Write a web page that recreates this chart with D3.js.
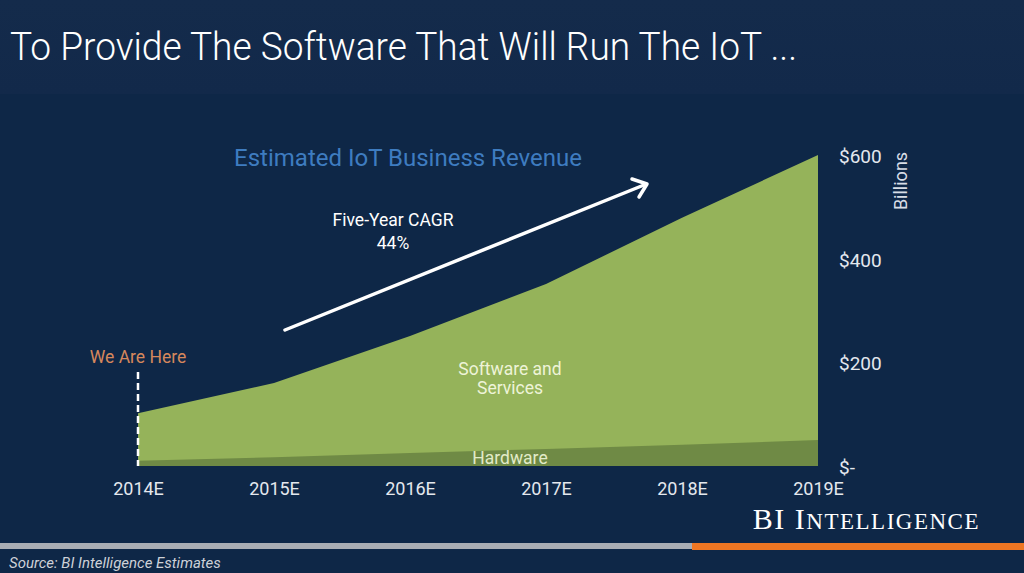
<!DOCTYPE html>
<html><head><meta charset="utf-8">
<script src="https://cdn.jsdelivr.net/npm/d3@7"></script>
<style>
html,body{margin:0;padding:0;background:#0e2747;}
svg{display:block;}
</style></head>
<body>
<svg id="chart" width="1024" height="573"></svg>
<script>
const years = ["2014E","2015E","2016E","2017E","2018E","2019E"];
const hardware = [10, 17, 25, 33, 41, 50];
const software = [92, 143, 226, 318, 438, 550];
const yTicks = [0, 200, 400, 600];
const yTickLabels = ["$-", "$200", "$400", "$600"];

const svg = d3.select("#chart");
const W = 1024, H = 573;
const FONT = "Roboto, sans-serif";

// backgrounds
const defs = svg.append("defs");
const hg = defs.append("linearGradient").attr("id","hdr").attr("x1",0).attr("y1",0).attr("x2",0).attr("y2",1);
hg.append("stop").attr("offset","0%").attr("stop-color","#142b4b");
hg.append("stop").attr("offset","100%").attr("stop-color","#12294a");
svg.append("rect").attr("width",W).attr("height",H).attr("fill","#0e2747");
svg.append("rect").attr("width",W).attr("height",94).attr("fill","url(#hdr)");

svg.append("text").attr("x",10).attr("y",60)
  .attr("font-family",FONT).attr("font-weight",300)
  .attr("font-size",38).attr("fill","#ffffff")
  .attr("textLength",787).attr("lengthAdjust","spacingAndGlyphs")
  .text("To Provide The Software That Will Run The IoT ...");

// scales
const x = d3.scalePoint().domain(years).range([138, 818]);
const y = d3.scaleLinear().domain([0, 600]).range([466, 155]);

const data = years.map((yr, i) => ({yr, hw: hardware[i], sw: software[i]}));

const areaTotal = d3.area().x(d => x(d.yr)).y0(y(0)).y1(d => y(d.hw + d.sw));
const areaHw = d3.area().x(d => x(d.yr)).y0(y(0)).y1(d => y(d.hw));

svg.append("path").datum(data).attr("d", areaTotal).attr("fill","#95b35a");
svg.append("path").datum(data).attr("d", areaHw).attr("fill","#6f8a45");

// y axis
const yAxis = d3.axisRight(y).tickValues(yTicks).tickFormat(d => yTickLabels[yTicks.indexOf(d)]).tickSize(0).tickPadding(0);
const ya = svg.append("g").attr("transform","translate(839,1)").call(yAxis);
ya.select(".domain").remove();
ya.selectAll("text").attr("font-family",FONT).attr("font-size",19).attr("fill","#e4e8ee").attr("dy","0.35em");

svg.append("text").attr("transform","translate(907,181) rotate(-90)")
  .attr("text-anchor","middle").attr("font-family",FONT).attr("font-size",18)
  .attr("fill","#d8dde6").text("Billions");

// x axis
const xAxis = d3.axisBottom(x).tickSize(0).tickPadding(0);
const xa = svg.append("g").attr("transform","translate(0,482)").call(xAxis);
xa.select(".domain").remove();
xa.selectAll("text").attr("font-family",FONT).attr("font-size",18)
  .attr("fill","#e4e8ee").attr("dy","0.71em");

// chart title
svg.append("text").attr("x",408).attr("y",166).attr("text-anchor","middle")
  .attr("font-family",FONT).attr("font-size",24).attr("fill","#3e7cc0")
  .text("Estimated IoT Business Revenue");

// CAGR
svg.append("text").attr("x",393).attr("y",226).attr("text-anchor","middle")
  .attr("font-family",FONT).attr("font-size",17.5).attr("fill","#ffffff").text("Five-Year CAGR");
svg.append("text").attr("x",393).attr("y",249).attr("text-anchor","middle")
  .attr("font-family",FONT).attr("font-size",17.5).attr("fill","#ffffff").text("44%");

// arrow
svg.append("line").attr("x1",285).attr("y1",330).attr("x2",644).attr("y2",185)
  .attr("stroke","#ffffff").attr("stroke-width",3.5).attr("stroke-linecap","round");
svg.append("path").attr("d","M632,179 L647,184 L639,197")
  .attr("fill","none").attr("stroke","#ffffff").attr("stroke-width",3.5).attr("stroke-linecap","round").attr("stroke-linejoin","round");

// We are here
svg.append("text").attr("x",138).attr("y",363).attr("text-anchor","middle")
  .attr("font-family",FONT).attr("font-size",17.5).attr("fill","#d6875c").text("We Are Here");
svg.append("line").attr("x1",x("2014E")).attr("x2",x("2014E")).attr("y1",372).attr("y2",y(0))
  .attr("stroke","#ffffff").attr("stroke-width",2.5).attr("stroke-dasharray","7,4");

// series labels
svg.append("text").attr("x",510).attr("y",375).attr("text-anchor","middle")
  .attr("font-family",FONT).attr("font-size",17.5).attr("fill","#eef3d8").text("Software and");
svg.append("text").attr("x",510).attr("y",394).attr("text-anchor","middle")
  .attr("font-family",FONT).attr("font-size",17.5).attr("fill","#eef3d8").text("Services");
svg.append("text").attr("x",510).attr("y",464).attr("text-anchor","middle")
  .attr("font-family",FONT).attr("font-size",17.5).attr("fill","#e2ebc8").text("Hardware");

// branding
const bi = svg.append("text").attr("x",980).attr("y",529).attr("text-anchor","end")
  .attr("font-family","'Liberation Serif', serif").attr("fill","#ffffff").attr("letter-spacing",1.5);
bi.append("tspan").attr("font-size",30).text("BI I");
bi.append("tspan").attr("font-size",23).text("NTELLIGENCE");

svg.append("rect").attr("x",0).attr("y",543).attr("width",692).attr("height",6).attr("fill","#a9adb4");
svg.append("rect").attr("x",692).attr("y",543).attr("width",332).attr("height",7).attr("fill","#ee7623");

svg.append("text").attr("x",9).attr("y",568)
  .attr("font-family",FONT).attr("font-style","italic")
  .attr("font-size",15).attr("fill","#cdd1d8").text("Source: BI Intelligence Estimates");
</script>
</body></html>
